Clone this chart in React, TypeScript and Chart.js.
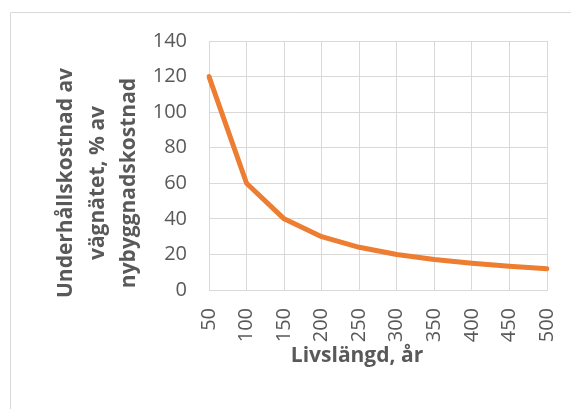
import React, { useEffect, useRef } from "react";
import { Chart, registerables } from "chart.js";

Chart.register(...registerables);

const categories = ["50", "100", "150", "200", "250", "300", "350", "400", "450", "500"];
const costValues = [120, 60, 40, 30, 24, 20, 17.1, 15, 13.3, 12];
const yTitleLines = ["Underhållskostnad av", "vägnätet, % av", "nybyggnadskostnad"];
const xTitle = "Livslängd, år";

const FONT = "'Open Sans', 'Liberation Sans', sans-serif";
const TEXT = "#595959";
const GRID = "#D9D9D9";

export default function App() {
  const ref = useRef<HTMLCanvasElement | null>(null);

  useEffect(() => {
    if (!ref.current) return;
    const framePlugin = {
      id: "frameAndTitles",
      beforeDraw(chart: any) {
        const ctx = chart.ctx;
        ctx.save();
        ctx.strokeStyle = GRID;
        ctx.lineWidth = 1;
        ctx.beginPath();
        ctx.moveTo(10.5, chart.height + 5);
        ctx.lineTo(10.5, 12.5);
        ctx.lineTo(chart.width + 5, 12.5);
        ctx.stroke();
        ctx.restore();
      },
      afterDraw(chart: any) {
        const ctx = chart.ctx;
        const a = chart.chartArea;
        ctx.save();
        ctx.fillStyle = TEXT;
        ctx.font = `bold 21px ${FONT}`;
        ctx.textAlign = "center";
        ctx.textBaseline = "middle";
        ctx.fillText(xTitle, a.left + 148, a.bottom + 66);
        const cy = a.top + 142;
        const xs = [a.left - 143, a.left - 111, a.left - 80];
        yTitleLines.forEach((line, i) => {
          ctx.save();
          ctx.translate(xs[i], cy);
          ctx.rotate(-Math.PI / 2);
          ctx.fillText(line, 0, 0);
          ctx.restore();
        });
        ctx.restore();
      },
    };

    const chart = new Chart(ref.current, {
      type: "line",
      data: {
        labels: categories,
        datasets: [
          {
            data: costValues,
            borderColor: "#ED7D31",
            backgroundColor: "#ED7D31",
            borderWidth: 5,
            pointRadius: 0,
            tension: 0,
            borderCapStyle: "round",
            borderJoinStyle: "round",
          },
        ],
      },
      options: {
        animation: false,
        responsive: false,
        maintainAspectRatio: false,
        layout: { padding: { left: 0, top: 41, right: 24, bottom: 0 } },
        plugins: { legend: { display: false }, tooltip: { enabled: false } },
        scales: {
          x: {
            offset: false,
            grid: { color: GRID, lineWidth: 1, drawTicks: false },
            border: { color: GRID, width: 1 },
            ticks: {
              color: TEXT,
              font: { family: FONT, size: 20 },
              minRotation: 90,
              maxRotation: 90,
              padding: 18,
              autoSkip: false,
            },
            afterFit(scale: any) {
              scale.height = 119;
              scale.paddingLeft = 0;
              scale.paddingRight = 0;
            },
          },
          y: {
            min: 0,
            max: 140,
            grid: { color: GRID, lineWidth: 1, drawTicks: false },
            border: { color: GRID, width: 1 },
            ticks: {
              stepSize: 20,
              color: TEXT,
              font: { family: FONT, size: 20 },
              padding: 22,
            },
            afterFit(scale: any) {
              scale.width = 209;
              scale.paddingTop = 0;
              scale.paddingBottom = 0;
            },
          },
        },
      },
      plugins: [framePlugin],
    } as any);
    return () => chart.destroy();
  }, []);

  return (
    <div style={{ position: "fixed", left: 0, top: 0, width: 571, height: 409, background: "#fff", overflow: "hidden" }}>
      <canvas ref={ref} width={571} height={409} style={{ width: 571, height: 409, display: "block" }} />
    </div>
  );
}
